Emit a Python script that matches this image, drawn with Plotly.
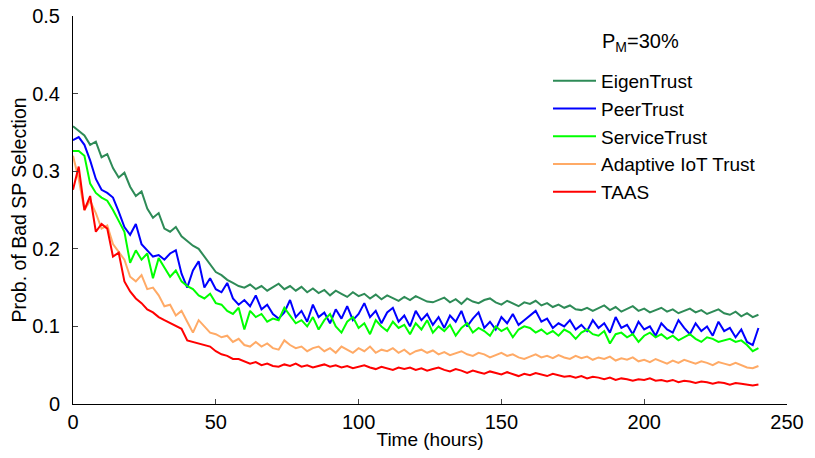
import plotly.graph_objects as go

hours = list(range(0, 241, 2))

eigen = [0.358, 0.352, 0.346, 0.334, 0.338, 0.318, 0.322, 0.304, 0.292, 0.298,
         0.280, 0.268, 0.274, 0.252, 0.240, 0.246, 0.226, 0.222, 0.228, 0.216,
         0.210, 0.204, 0.200, 0.190, 0.180, 0.170, 0.166, 0.160, 0.156, 0.152,
         0.150, 0.154, 0.148, 0.152, 0.146, 0.150, 0.155, 0.148, 0.152, 0.146,
         0.151, 0.144, 0.149, 0.143, 0.147, 0.140, 0.146, 0.142, 0.138, 0.144,
         0.139, 0.142, 0.136, 0.141, 0.135, 0.140, 0.136, 0.133, 0.138, 0.134,
         0.139, 0.135, 0.132, 0.131, 0.134, 0.137, 0.131, 0.135, 0.129, 0.136,
         0.132, 0.130, 0.134, 0.136, 0.131, 0.128, 0.133, 0.130, 0.126, 0.131,
         0.129, 0.133, 0.127, 0.130, 0.125, 0.128, 0.124, 0.127, 0.122, 0.121,
         0.124, 0.120, 0.123, 0.127, 0.121, 0.125, 0.119, 0.122, 0.126, 0.120,
         0.123, 0.118, 0.121, 0.124, 0.119, 0.122, 0.117, 0.120, 0.123, 0.118,
         0.121, 0.116, 0.119, 0.122, 0.117, 0.115, 0.119, 0.113, 0.117, 0.112,
         0.115]

peer = [0.340, 0.344, 0.334, 0.314, 0.290, 0.276, 0.272, 0.266, 0.248, 0.228,
        0.218, 0.232, 0.206, 0.198, 0.190, 0.192, 0.186, 0.194, 0.198, 0.168,
        0.150, 0.172, 0.184, 0.150, 0.162, 0.148, 0.144, 0.156, 0.136, 0.128,
        0.134, 0.126, 0.140, 0.122, 0.128, 0.116, 0.110, 0.118, 0.134, 0.112,
        0.120, 0.106, 0.128, 0.112, 0.118, 0.104, 0.122, 0.110, 0.126, 0.108,
        0.116, 0.130, 0.112, 0.120, 0.104, 0.118, 0.124, 0.106, 0.114, 0.100,
        0.120, 0.108, 0.116, 0.102, 0.112, 0.098, 0.114, 0.106, 0.120, 0.100,
        0.110, 0.118, 0.098, 0.106, 0.096, 0.112, 0.104, 0.116, 0.102, 0.108,
        0.114, 0.120, 0.106, 0.110, 0.098, 0.104, 0.100, 0.108, 0.096, 0.102,
        0.094, 0.108, 0.098, 0.104, 0.092, 0.112, 0.098, 0.102, 0.090, 0.106,
        0.096, 0.100, 0.088, 0.104, 0.096, 0.092, 0.108, 0.098, 0.090, 0.104,
        0.094, 0.100, 0.088, 0.106, 0.094, 0.098, 0.086, 0.096, 0.080, 0.076,
        0.098]

service = [0.326, 0.326, 0.320, 0.284, 0.272, 0.266, 0.262, 0.250, 0.236, 0.222,
           0.182, 0.198, 0.186, 0.194, 0.162, 0.188, 0.176, 0.164, 0.172, 0.158,
           0.152, 0.148, 0.140, 0.136, 0.142, 0.130, 0.128, 0.120, 0.116, 0.124,
           0.096, 0.120, 0.112, 0.116, 0.106, 0.110, 0.108, 0.124, 0.114, 0.104,
           0.108, 0.100, 0.112, 0.096, 0.108, 0.116, 0.100, 0.092, 0.106, 0.112,
           0.098, 0.104, 0.090, 0.108, 0.100, 0.094, 0.106, 0.098, 0.102, 0.090,
           0.104, 0.096, 0.108, 0.092, 0.100, 0.094, 0.102, 0.088, 0.098, 0.104,
           0.092, 0.098, 0.094, 0.088, 0.100, 0.094, 0.098, 0.086, 0.096, 0.100,
           0.098, 0.092, 0.096, 0.090, 0.094, 0.088, 0.096, 0.092, 0.084, 0.092,
           0.096, 0.090, 0.088, 0.094, 0.078, 0.090, 0.092, 0.086, 0.090, 0.080,
           0.088, 0.092, 0.086, 0.090, 0.084, 0.088, 0.082, 0.086, 0.090, 0.084,
           0.080, 0.086, 0.084, 0.080, 0.082, 0.084, 0.080, 0.082, 0.076, 0.068,
           0.072]

adaptive = [0.320, 0.290, 0.250, 0.262, 0.246, 0.226, 0.230, 0.206, 0.196, 0.186,
            0.164, 0.158, 0.166, 0.148, 0.150, 0.140, 0.126, 0.128, 0.114, 0.120,
            0.106, 0.092, 0.108, 0.100, 0.092, 0.090, 0.086, 0.088, 0.080, 0.084,
            0.076, 0.074, 0.080, 0.074, 0.078, 0.072, 0.070, 0.082, 0.076, 0.072,
            0.074, 0.068, 0.072, 0.074, 0.068, 0.072, 0.066, 0.074, 0.070, 0.066,
            0.072, 0.068, 0.074, 0.066, 0.070, 0.068, 0.072, 0.066, 0.070, 0.064,
            0.068, 0.070, 0.066, 0.069, 0.064, 0.067, 0.063, 0.066, 0.068, 0.064,
            0.062, 0.066, 0.064, 0.060, 0.063, 0.066, 0.062, 0.064, 0.060, 0.058,
            0.061, 0.064, 0.060, 0.062, 0.059, 0.063, 0.060, 0.058, 0.062, 0.059,
            0.061, 0.057, 0.060, 0.058, 0.061, 0.056, 0.059, 0.057, 0.060, 0.055,
            0.057, 0.054, 0.058, 0.055, 0.052, 0.056, 0.053, 0.057, 0.054, 0.052,
            0.055, 0.053, 0.050, 0.054, 0.052, 0.050, 0.053, 0.050, 0.047, 0.046,
            0.049]

taas = [0.276, 0.306, 0.250, 0.268, 0.222, 0.232, 0.226, 0.190, 0.195, 0.158,
        0.145, 0.136, 0.130, 0.122, 0.118, 0.112, 0.108, 0.104, 0.100, 0.097,
        0.082, 0.080, 0.078, 0.076, 0.074, 0.068, 0.064, 0.062, 0.058, 0.058,
        0.055, 0.052, 0.054, 0.050, 0.052, 0.049, 0.048, 0.051, 0.049, 0.052,
        0.048, 0.050, 0.047, 0.049, 0.051, 0.048, 0.050, 0.047, 0.049, 0.046,
        0.048, 0.050, 0.047, 0.045, 0.048, 0.046, 0.044, 0.047, 0.045, 0.047,
        0.044, 0.046, 0.043, 0.045, 0.047, 0.044, 0.042, 0.045, 0.043, 0.040,
        0.043, 0.041, 0.039, 0.042, 0.040, 0.038, 0.041, 0.039, 0.036, 0.039,
        0.037, 0.040, 0.038, 0.036, 0.039, 0.037, 0.035, 0.036, 0.034, 0.036,
        0.033, 0.035, 0.034, 0.032, 0.034, 0.031, 0.033, 0.032, 0.030, 0.032,
        0.031, 0.033, 0.030, 0.031, 0.029, 0.031, 0.028, 0.030, 0.029, 0.027,
        0.029, 0.028, 0.026, 0.028, 0.027, 0.025, 0.027, 0.026, 0.025, 0.024,
        0.025]

series_names = ["EigenTrust", "PeerTrust", "ServiceTrust", "Adaptive IoT Trust", "TAAS"]
series_values = [eigen, peer, service, adaptive, taas]
series_colors = ["#2e8b57", "#0000ff", "#00ff00", "#ffaa66", "#ff0000"]

x_ticks = [0, 50, 100, 150, 200, 250]
y_ticks = [0, 0.1, 0.2, 0.3, 0.4, 0.5]
y_tick_text = ["0", "0.1", "0.2", "0.3", "0.4", "0.5"]

FONT = "Liberation Sans, Arial, sans-serif"

fig = go.Figure()
for name, vals, col in zip(series_names, series_values, series_colors):
    fig.add_trace(go.Scatter(x=hours[:len(vals)], y=vals, mode="lines", name=name,
                             line=dict(color=col, width=2)))

fig.update_layout(
    width=815, height=458,
    margin=dict(l=73, r=28, t=16, b=54),
    paper_bgcolor="white", plot_bgcolor="white",
    font=dict(family=FONT, size=20, color="black"),
    showlegend=True,
    legend=dict(x=(548 - 73) / 714, y=(404 - 62) / 388, xanchor="left", yanchor="top",
                bgcolor="rgba(0,0,0,0)", font=dict(size=19, family=FONT),
                tracegroupgap=0, itemwidth=43),
    annotations=[dict(text="P<sub>M</sub>=30%", xref="paper", yref="paper",
                      x=(600 - 73) / 714, y=(404 - 43) / 388,
                      xanchor="left", yanchor="middle", showarrow=False,
                      font=dict(size=20, family=FONT))],
)
fig.update_xaxes(range=[0, 250], tickvals=x_ticks, ticks="inside", ticklen=5,
                 showline=True, linecolor="black", linewidth=1, showgrid=False,
                 zeroline=False, mirror=False, automargin=False,
                 tickfont=dict(size=20),
                 title=dict(text="Time (hours)", font=dict(size=19), standoff=0))
fig.update_yaxes(range=[0, 0.5], tickvals=y_ticks, ticktext=y_tick_text,
                 ticks="inside", ticklen=5, ticklabelstandoff=8,
                 showline=True, linecolor="black", linewidth=1, showgrid=False,
                 zeroline=False, mirror=False, automargin=False,
                 tickfont=dict(size=20),
                 title=dict(text="Prob. of Bad SP Selection", font=dict(size=19.5), standoff=0))

fig.write_html("out.html", config={"displayModeBar": False},
               post_script="document.body.style.margin='0px';")
